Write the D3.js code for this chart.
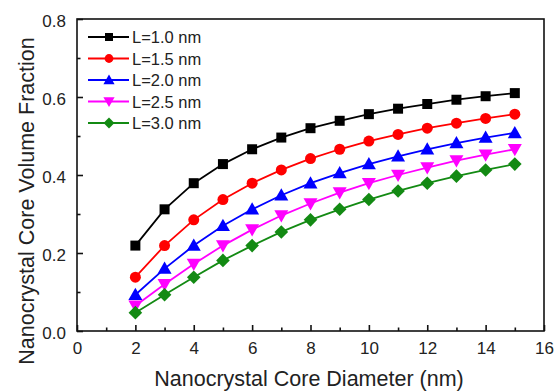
<!DOCTYPE html>
<html>
<head>
  <script src="https://cdn.jsdelivr.net/npm/d3@7"></script>
  <style>
    body { margin: 0; background: #fff; }
    text { font-family: "Liberation Sans", Arial, sans-serif; fill: #222; }
  </style>
</head>
<body>
  <svg id="chart" width="556" height="392"></svg>
  <script>
    var diameters = [2, 3, 4, 5, 6, 7, 8, 9, 10, 11, 12, 13, 14, 15];
    var labels = ['L=1.0 nm', 'L=1.5 nm', 'L=2.0 nm', 'L=2.5 nm', 'L=3.0 nm'];
    var colors = ['#000000', '#ff0000', '#0000ff', '#ff00ff', '#138a13'];
    var shapes = ['square', 'circle', 'triUp', 'triDown', 'diamond'];

    var l10 = [0.219, 0.312, 0.379, 0.428, 0.466, 0.496, 0.520, 0.539, 0.556, 0.570, 0.582, 0.593, 0.602, 0.610];
    var l15 = [0.138, 0.219, 0.285, 0.337, 0.379, 0.413, 0.442, 0.466, 0.487, 0.504, 0.520, 0.533, 0.545, 0.556];
    var l20 = [0.093, 0.160, 0.219, 0.270, 0.312, 0.348, 0.379, 0.405, 0.428, 0.448, 0.466, 0.482, 0.496, 0.508];
    var l25 = [0.065, 0.120, 0.172, 0.219, 0.260, 0.296, 0.327, 0.355, 0.379, 0.400, 0.419, 0.437, 0.452, 0.466];
    var l30 = [0.047, 0.093, 0.138, 0.181, 0.219, 0.254, 0.285, 0.312, 0.337, 0.359, 0.379, 0.397, 0.413, 0.428];
    var series = [l10, l15, l20, l25, l30];

    var xTicks = [0, 2, 4, 6, 8, 10, 12, 14, 16];
    var yTicks = [0.0, 0.2, 0.4, 0.6, 0.8];

    var svg = d3.select('#chart');
    var mLeft = 77, mRight = 544, mTop = 19, mBottom = 331;

    var x = d3.scaleLinear().domain([0, 16]).range([mLeft, mRight]);
    var y = d3.scaleLinear().domain([0, 0.8]).range([mBottom, mTop]);

    // frame
    svg.append('rect')
      .attr('x', mLeft).attr('y', mTop)
      .attr('width', mRight - mLeft).attr('height', mBottom - mTop)
      .attr('fill', 'none').attr('stroke', '#111').attr('stroke-width', 1.6);

    // axes, ticks inside
    var xAxis = svg.append('g').attr('transform', 'translate(0,' + mBottom + ')')
      .call(d3.axisBottom(x).tickValues(xTicks).tickSizeInner(-6).tickSizeOuter(0).tickPadding(10).tickFormat(d3.format('d')));
    var xMinor = svg.append('g').attr('transform', 'translate(0,' + mBottom + ')')
      .call(d3.axisBottom(x).tickValues(d3.range(1, 16, 2)).tickSize(-3.5).tickFormat(''));
    var yAxis = svg.append('g').attr('transform', 'translate(' + mLeft + ',0)')
      .call(d3.axisLeft(y).tickValues(yTicks).tickSizeInner(-6).tickSizeOuter(0).tickPadding(11).tickFormat(d3.format('.1f')));
    var yMinor = svg.append('g').attr('transform', 'translate(' + mLeft + ',0)')
      .call(d3.axisLeft(y).tickValues([0.1, 0.3, 0.5, 0.7]).tickSize(-3.5).tickFormat(''));

    [xAxis, xMinor, yAxis, yMinor].forEach(function (g) {
      g.select('.domain').remove();
      g.selectAll('line').attr('stroke', '#111').attr('stroke-width', 1.6);
      g.selectAll('text').style('font-size', '17px').attr('fill', '#222');
    });
    xAxis.selectAll('text').attr('dy', '0.75em');
    yAxis.selectAll('text').attr('dy', '0.45em');

    // marker paths
    function marker(shape) {
      if (shape === 'square') return d3.symbol(d3.symbolSquare, 100)();
      if (shape === 'circle') return d3.symbol(d3.symbolCircle, 95)();
      var s = 7;
      if (shape === 'diamond') return 'M0,-6.8L6.8,0L0,6.8L-6.8,0Z';
      if (shape === 'triUp') return 'M0,' + (-s) + 'L' + s + ',' + (s * 0.75) + 'L' + (-s) + ',' + (s * 0.75) + 'Z';
      return 'M0,' + s + 'L' + s + ',' + (-s * 0.75) + 'L' + (-s) + ',' + (-s * 0.75) + 'Z';
    }

    var line = d3.line()
      .x(function (d, i) { return x(diameters[i]); })
      .y(function (d) { return y(d); });

    series.forEach(function (vals, k) {
      var g = svg.append('g');
      g.append('path')
        .attr('d', line(vals))
        .attr('fill', 'none')
        .attr('stroke', colors[k])
        .attr('stroke-width', 1.8);
      g.selectAll('path.m')
        .data(vals)
        .enter()
        .append('path')
        .attr('class', 'm')
        .attr('d', marker(shapes[k]))
        .attr('transform', function (d, i) { return 'translate(' + x(diameters[i]) + ',' + y(d) + ')'; })
        .attr('fill', colors[k]);
    });

    // legend
    var legend = svg.append('g');
    labels.forEach(function (lab, k) {
      var ly = 37 + k * 21.5;
      legend.append('line')
        .attr('x1', 88).attr('x2', 129).attr('y1', ly).attr('y2', ly)
        .attr('stroke', colors[k]).attr('stroke-width', 1.8);
      legend.append('path')
        .attr('d', marker(shapes[k]))
        .attr('transform', 'translate(109,' + ly + ') scale(0.8)')
        .attr('fill', colors[k]);
      legend.append('text')
        .attr('x', 132).attr('y', ly + 6)
        .style('font-size', '16.5px')
        .text(lab);
    });

    // axis titles
    svg.append('text')
      .attr('x', 309).attr('y', 386)
      .attr('text-anchor', 'middle')
      .style('font-size', '21.5px')
      .text('Nanocrystal Core Diameter (nm)');

    svg.append('text')
      .attr('transform', 'translate(34,201) rotate(-90)')
      .attr('text-anchor', 'middle')
      .style('font-size', '21.5px')
      .text('Nanocrystal Core Volume Fraction');
  </script>
</body>
</html>
